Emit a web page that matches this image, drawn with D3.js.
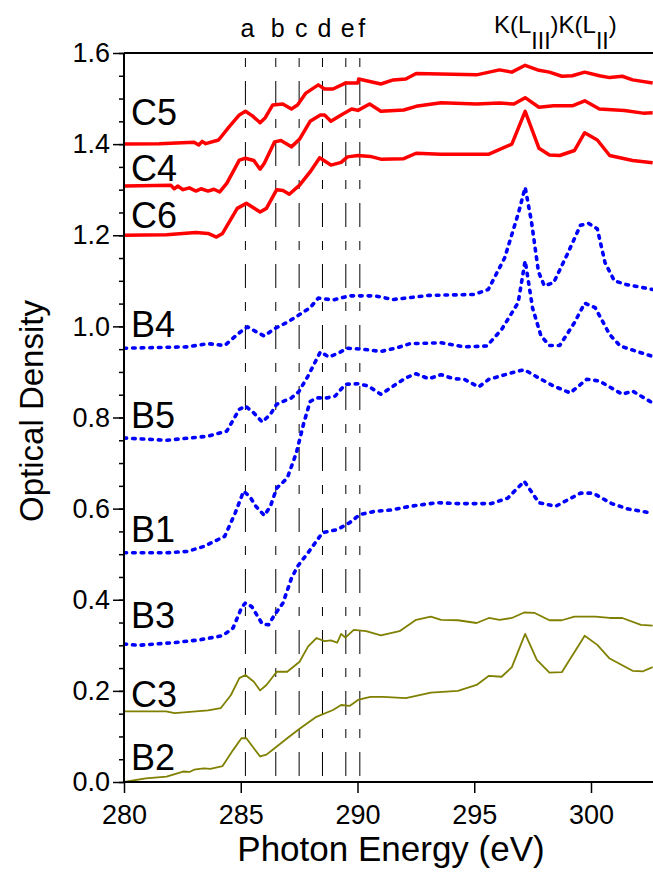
<!DOCTYPE html>
<html>
<head>
<meta charset="utf-8">
<script src="https://cdn.jsdelivr.net/npm/d3@7"></script>
<style>
    body { margin: 0; background: #fff; }
    svg { display: block; font-family: "Liberation Sans", Arial, sans-serif; }
</style>
</head>
<body>
<svg id="chart" width="653" height="876"></svg>
<script>
// spectra: [photon energy (eV), optical density]
const c5 = [[280, 1.40], [281.5, 1.401], [283.0, 1.404], [283.2, 1.398], [283.35, 1.406], [283.5, 1.401],
    [284.05, 1.409], [284.5, 1.438], [284.94, 1.464], [285.2, 1.472], [285.5, 1.462], [285.83, 1.447],
    [286.05, 1.458], [286.37, 1.486], [286.8, 1.488], [287.17, 1.477], [287.43, 1.486], [287.79, 1.512],
    [288.32, 1.530], [288.59, 1.521], [288.95, 1.521], [289.48, 1.534], [290.02, 1.534], [290.05, 1.543],
    [291.0, 1.532], [291.53, 1.541], [292.07, 1.543], [292.51, 1.555], [295.1, 1.552], [296.08, 1.563],
    [296.61, 1.558], [297.18, 1.573], [297.77, 1.562], [298.22, 1.558], [298.75, 1.549], [299.2, 1.550],
    [299.73, 1.558], [300.36, 1.550], [300.8, 1.546], [301.34, 1.549], [301.78, 1.541], [302.64, 1.534]];

const c4 = [[280, 1.308], [282.0, 1.310], [282.15, 1.302], [282.3, 1.308], [282.53, 1.300], [282.8, 1.304],
    [283.07, 1.297], [283.3, 1.302], [283.6, 1.297], [283.85, 1.301], [284.1, 1.295], [284.4, 1.314],
    [284.94, 1.365], [285.2, 1.369], [285.56, 1.364], [285.83, 1.345], [286.01, 1.358], [286.45, 1.405],
    [286.72, 1.408], [287.17, 1.394], [287.52, 1.411], [287.97, 1.450], [288.41, 1.464], [288.59, 1.464],
    [288.86, 1.450], [289.3, 1.464], [289.75, 1.477], [290.02, 1.474], [290.52, 1.488], [291.0, 1.472],
    [291.98, 1.475], [292.51, 1.483], [293.58, 1.491], [295.1, 1.488], [296.08, 1.490], [296.7, 1.488],
    [297.18, 1.502], [297.77, 1.481], [298.4, 1.484], [299.2, 1.484], [299.73, 1.495], [300.36, 1.477],
    [301.43, 1.474], [302.23, 1.468], [302.64, 1.469]];

const c6 = [[280, 1.200], [281.82, 1.201], [283.07, 1.206], [283.6, 1.204], [283.96, 1.196], [284.22, 1.204],
    [284.85, 1.259], [285.24, 1.270], [285.83, 1.251], [286.1, 1.259], [286.54, 1.300], [286.81, 1.298],
    [287.08, 1.290], [287.52, 1.310], [287.97, 1.339], [288.38, 1.370], [288.86, 1.354], [289.3, 1.360],
    [289.57, 1.372], [290.02, 1.375], [290.55, 1.373], [291.0, 1.367], [291.98, 1.368], [292.51, 1.380],
    [293.58, 1.378], [295.63, 1.378], [296.61, 1.400], [297.18, 1.472], [297.77, 1.391], [298.22, 1.376],
    [298.66, 1.375], [299.29, 1.386], [299.73, 1.425], [300.27, 1.409], [300.8, 1.375], [301.78, 1.364],
    [302.64, 1.359]];

const b4 = [[280, 0.952], [282.71, 0.955], [283.6, 0.962], [284.31, 0.958], [284.94, 0.986], [285.29, 0.999],
    [285.6, 0.990], [286.0, 0.979], [286.45, 0.995], [286.99, 1.009], [287.52, 1.026], [287.97, 1.041],
    [288.32, 1.062], [288.95, 1.058], [289.66, 1.067], [290.73, 1.067], [291.53, 1.059], [293.05, 1.068],
    [295.0, 1.070], [295.6, 1.081], [296.3, 1.150], [296.9, 1.250], [297.18, 1.305], [297.45, 1.230],
    [297.75, 1.120], [298.0, 1.089], [298.4, 1.096], [299.0, 1.160], [299.55, 1.222], [299.9, 1.226],
    [300.27, 1.214], [300.6, 1.140], [301.0, 1.100], [301.5, 1.092], [302.64, 1.081]];

const b5 = [[280, 0.755], [281.82, 0.750], [283.6, 0.759], [284.4, 0.770], [284.94, 0.818], [285.2, 0.825],
    [285.56, 0.810], [285.92, 0.790], [286.27, 0.807], [286.54, 0.829], [287.17, 0.843], [287.49, 0.857],
    [287.88, 0.891], [288.41, 0.944], [288.77, 0.933], [289.13, 0.940], [289.57, 0.952], [290.2, 0.950],
    [291.0, 0.945], [291.62, 0.952], [292.25, 0.962], [293.58, 0.964], [294.56, 0.955], [295.54, 0.957],
    [296.17, 0.993], [296.88, 1.052], [297.18, 1.144], [297.5, 1.040], [297.86, 0.979], [298.22, 0.958],
    [298.66, 0.958], [299.29, 1.008], [299.73, 1.051], [300.18, 1.041], [300.8, 0.982], [301.25, 0.957],
    [301.96, 0.945], [302.64, 0.934]];

const b1 = [[280, 0.503], [281.8, 0.503], [282.71, 0.506], [283.42, 0.517], [284.31, 0.539], [284.76, 0.590],
    [285.12, 0.638], [285.38, 0.627], [285.65, 0.605], [286.01, 0.585], [286.27, 0.605], [286.54, 0.645],
    [286.99, 0.667], [287.38, 0.722], [287.7, 0.788], [287.97, 0.835], [288.24, 0.843], [288.68, 0.843],
    [289.04, 0.847], [289.48, 0.873], [290.02, 0.874], [290.46, 0.869], [291.0, 0.851], [291.53, 0.869],
    [292.07, 0.887], [292.51, 0.896], [293.05, 0.885], [293.58, 0.894], [294.12, 0.885], [294.56, 0.884],
    [295.19, 0.867], [295.63, 0.884], [296.61, 0.898], [297.14, 0.905], [297.86, 0.884], [298.4, 0.869],
    [299.11, 0.854], [299.82, 0.884], [300.36, 0.880], [301.34, 0.851], [301.78, 0.858], [302.64, 0.832]];

const b3 = [[280, 0.303], [280.6, 0.300], [282.17, 0.306], [283.24, 0.312], [284.22, 0.321], [284.67, 0.338],
    [285.03, 0.382], [285.2, 0.393], [285.47, 0.385], [285.92, 0.347], [286.19, 0.345], [286.45, 0.367],
    [286.81, 0.393], [287.17, 0.447], [287.43, 0.473], [287.88, 0.503], [288.5, 0.547], [289.13, 0.554],
    [289.66, 0.569], [290.1, 0.587], [290.73, 0.594], [291.44, 0.597], [292.25, 0.605], [293.4, 0.613],
    [294.3, 0.611], [295.72, 0.611], [296.43, 0.623], [297.14, 0.660], [297.77, 0.613], [298.48, 0.605],
    [299.55, 0.634], [300.09, 0.634], [300.89, 0.611], [301.6, 0.599], [302.64, 0.590]];

const c3 = [[280, 0.155], [281.8, 0.155], [282.17, 0.151], [283.6, 0.157], [284.14, 0.162], [284.58, 0.191],
    [284.94, 0.228], [285.2, 0.235], [285.56, 0.220], [285.83, 0.201], [286.1, 0.213], [286.54, 0.242],
    [286.99, 0.242], [287.52, 0.264], [287.88, 0.297], [288.24, 0.316], [288.59, 0.309], [288.86, 0.311],
    [289.13, 0.306], [289.3, 0.325], [289.48, 0.317], [289.84, 0.334], [290.37, 0.331], [291.0, 0.322],
    [291.8, 0.331], [292.51, 0.356], [293.14, 0.363], [293.58, 0.356], [294.3, 0.355], [295.1, 0.349],
    [295.63, 0.360], [296.08, 0.356], [296.61, 0.360], [297.14, 0.372], [297.59, 0.371], [298.22, 0.355],
    [298.75, 0.355], [299.29, 0.363], [300.18, 0.363], [300.8, 0.360], [301.34, 0.360], [302.14, 0.345],
    [302.64, 0.343]];

const b2 = [[280, 0.000], [280.93, 0.008], [281.82, 0.012], [282.53, 0.023], [282.8, 0.022], [283.0, 0.027],
    [283.42, 0.030], [283.7, 0.029], [284.22, 0.035], [284.67, 0.070], [285.03, 0.096], [285.24, 0.096],
    [285.56, 0.074], [285.83, 0.056], [286.1, 0.060], [286.45, 0.074], [286.99, 0.096], [287.52, 0.117],
    [288.24, 0.143], [288.95, 0.158], [289.3, 0.169], [289.66, 0.167], [290.02, 0.180], [290.55, 0.187],
    [291.09, 0.187], [292.07, 0.184], [293.14, 0.196], [294.3, 0.200], [295.1, 0.213], [295.63, 0.233],
    [296.17, 0.231], [296.61, 0.252], [297.18, 0.325], [297.68, 0.268], [298.22, 0.240], [298.75, 0.241],
    [299.73, 0.321], [300.27, 0.301], [300.8, 0.271], [301.78, 0.244], [302.23, 0.243], [302.64, 0.252]];

const seriesNames = ["C5", "C4", "C6", "B4", "B5", "B1", "B3", "C3", "B2"];
const seriesData = [c5, c4, c6, b4, b5, b1, b3, c3, b2];
const seriesKind = ["C", "C", "C", "B", "B", "B", "B", "O", "O"];
// where each curve's name sits (optical density of the label baseline)
const labelOD = [1.442, 1.319, 1.215, 0.976, 0.778, 0.527, 0.338, 0.165, 0.026];

const featureNames = ["a", "b", "c", "d", "e", "f"];
const featureEnergy = [285.2, 286.5, 287.5, 288.5, 289.5, 290.1];
const peakSub = ["III", "II"];

const xTicks = [280, 285, 290, 295, 300];
const yTicks = [0, 0.2, 0.4, 0.6, 0.8, 1.0, 1.2, 1.4, 1.6];
const yMinor = d3.range(0, 1.6001, 0.05);

const svg = d3.select("#chart");
const plotLeft = 124, plotTop = 53, plotBottom = 782, plotRight = 653;

const x = d3.scaleLinear().domain([280, 300]).range([plotLeft, 591]);
const y = d3.scaleLinear().domain([0, 1.6]).range([plotBottom, plotTop]);

const styles = {
    C: { stroke: "#ff0000", width: 3.5, dash: null, cap: "butt" },
    B: { stroke: "#0000ff", width: 3.6, dash: "2.6,6", cap: "round" },
    O: { stroke: "#808000", width: 1.8, dash: null, cap: "butt" },
};

svg.append("defs").append("clipPath").attr("id", "plot-clip")
    .append("rect")
    .attr("x", plotLeft).attr("y", plotTop - 10)
    .attr("width", plotRight - plotLeft).attr("height", plotBottom - plotTop + 10);

// feature lines a..f
const vlines = svg.append("g").attr("id", "features");
vlines.selectAll("line")
    .data(featureEnergy)
    .enter()
    .append("line")
    .attr("x1", (d) => x(d)).attr("x2", (d) => x(d))
    .attr("y1", y(1.6) + 5).attr("y2", y(0))
    .attr("stroke", "#000")
    .attr("stroke-width", 1)
    .attr("stroke-dasharray", "9,14,24,14");
vlines.selectAll("text")
    .data(featureNames)
    .enter()
    .append("text")
    .attr("x", (d, i) => x(featureEnergy[i]) + 2)
    .attr("y", 37)
    .attr("text-anchor", "middle")
    .attr("font-size", 25)
    .text((d) => d);

// peak labels K(L_III)K(L_II), one run of text like the original
const kLabel = svg.append("text")
    .attr("x", 494)
    .attr("y", 33)
    .attr("font-size", 24);
peakSub.forEach((sub) => {
    kLabel.append("tspan").attr("dy", 0).text("K(L");
    kLabel.append("tspan").attr("dy", 16).attr("font-size", 23).text(sub);
    kLabel.append("tspan").attr("dy", -16).text(")");
});

// spectra
const line = d3.line().x((d) => x(d[0])).y((d) => y(d[1]));
const curves = svg.append("g").attr("clip-path", "url(#plot-clip)");
seriesData.forEach((data, i) => {
    const s = styles[seriesKind[i]];
    curves.append("path")
        .datum(data)
        .attr("d", line)
        .attr("fill", "none")
        .attr("stroke", s.stroke)
        .attr("stroke-width", s.width)
        .attr("stroke-linejoin", "round")
        .attr("stroke-linecap", s.cap)
        .attr("stroke-dasharray", s.dash);
});

svg.append("g")
    .selectAll("text")
    .data(seriesNames)
    .enter()
    .append("text")
    .attr("x", x(280.3))
    .attr("y", (d, i) => y(labelOD[i]))
    .attr("font-size", 36)
    .text((d) => d);

// axes
svg.append("g")
    .attr("transform", `translate(${plotLeft},0)`)
    .call(d3.axisLeft(y).tickValues(yMinor).tickSize(5).tickFormat(""))
    .call((g) => g.select(".domain").remove());
const yAxis = svg.append("g")
    .attr("transform", `translate(${plotLeft},0)`)
    .call(d3.axisLeft(y).tickValues(yTicks).tickSize(11).tickPadding(3).tickFormat(d3.format(".1f")));
yAxis.select(".domain").remove();
yAxis.selectAll("text").attr("font-size", 27).attr("font-family", null);

const xAxis = svg.append("g")
    .attr("transform", `translate(0,${plotBottom})`)
    .call(d3.axisBottom(x).tickValues(xTicks).tickSize(11).tickPadding(12).tickFormat(d3.format("d")));
xAxis.select(".domain").remove();
xAxis.selectAll("text").attr("font-size", 27).attr("font-family", null);
svg.selectAll(".tick line").attr("stroke-width", 1.5);

// frame
const frame = svg.append("g").attr("stroke", "#000").attr("stroke-width", 2);
frame.append("line").attr("x1", plotLeft).attr("x2", plotLeft).attr("y1", plotTop).attr("y2", plotBottom);
frame.append("line").attr("x1", plotLeft).attr("x2", plotRight).attr("y1", plotTop).attr("y2", plotTop);
frame.append("line").attr("x1", plotLeft).attr("x2", plotRight).attr("y1", plotBottom).attr("y2", plotBottom);

// axis titles
svg.append("text")
    .attr("x", 391).attr("y", 861)
    .attr("text-anchor", "middle")
    .attr("font-size", 35)
    .text("Photon Energy (eV)");
svg.append("text")
    .attr("transform", "translate(43,411) rotate(-90)")
    .attr("text-anchor", "middle")
    .attr("font-size", 33)
    .text("Optical Density");
</script>
</body>
</html>
